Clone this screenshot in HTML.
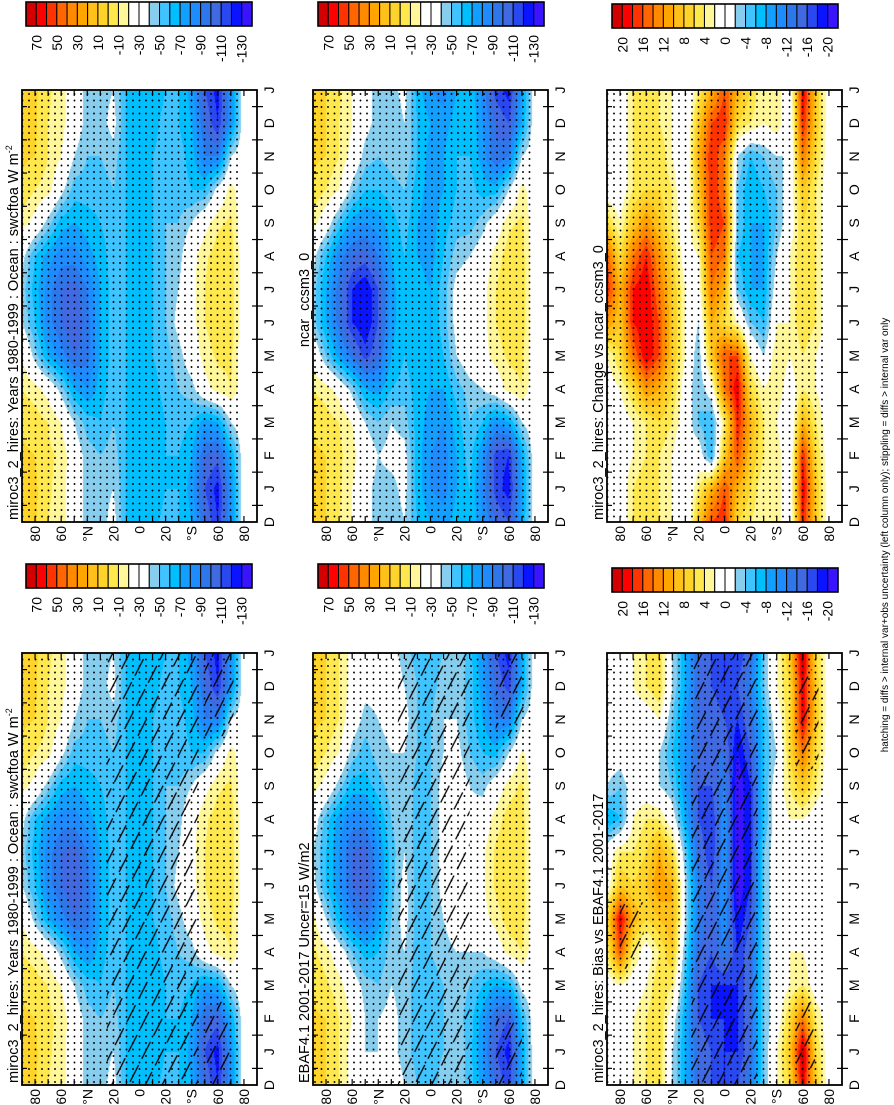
<!DOCTYPE html>
<html><head><meta charset="utf-8">
<style>
html,body{margin:0;padding:0;background:#fff;}
#wrap{position:relative;width:894px;height:1105px;overflow:hidden;font-family:"Liberation Sans",Arial,sans-serif;}
canvas{position:absolute;}
svg{position:absolute;left:0;top:0;}
</style></head>
<body>
<div id="wrap">
<svg id="svg" width="894" height="1105">
<defs>
<pattern id="dots" width="6.5" height="6.5" patternUnits="userSpaceOnUse"><circle cx="3" cy="3" r="0.95" fill="#000"/></pattern>
<pattern id="hatch" width="15" height="26" patternUnits="userSpaceOnUse" patternTransform="rotate(27)"><line x1="7" y1="2" x2="7" y2="21" stroke="#000" stroke-width="1.3"/></pattern>
</defs>
</svg>
</div>
<script>
// ---- data: rows = months D,J,F,M,A,M,J,J,A,S,O,N ; cols = lat 90N..90S every 10 deg
const monthLabels=["D","J","F","M","A","M","J","J","A","S","O","N","D","J"];
const latTickLabels=["80","60","°N","20","0","20","°S","60","80"];
const latTickValues=[80,60,40,20,0,-20,-40,-60,-80];
const meanCbLabels=["70","50","30","10","-10","-30","-50","-70","-90","-110","-130"];
const diffCbLabels=["20","16","12","8","4","0","-4","-8","-12","-16","-20"];
const mirocData=[
[2,2,-10,-15,-30,-45,-45,-35,-60,-65,-65,-55,-60,-70,-100,-120,-80,-30,-30],
[2,2,-8,-15,-30,-45,-45,-40,-60,-65,-70,-60,-60,-75,-110,-125,-80,-30,-30],
[2,0,-8,-12,-30,-45,-50,-45,-60,-65,-70,-60,-60,-70,-100,-105,-70,-30,-30],
[-2,-5,-10,-20,-40,-55,-60,-50,-60,-65,-70,-60,-55,-60,-75,-70,-40,-30,-30],
[-10,-15,-25,-45,-70,-80,-65,-55,-60,-65,-65,-55,-50,-45,-25,-15,-10,-30,-30],
[-20,-45,-70,-85,-100,-95,-70,-55,-60,-65,-60,-55,-45,-30,-15,-8,-8,-30,-30],
[-40,-60,-85,-100,-110,-95,-70,-55,-60,-70,-60,-50,-35,-25,-10,-3,-3,-30,-30],
[-45,-65,-85,-100,-105,-90,-70,-55,-60,-70,-60,-50,-40,-25,-10,-3,-3,-30,-30],
[-35,-60,-75,-85,-85,-75,-65,-55,-60,-70,-60,-50,-45,-25,-12,-5,-5,-30,-30],
[-15,-25,-45,-65,-70,-65,-60,-55,-60,-70,-60,-50,-50,-40,-25,-12,-8,-30,-30],
[-2,-10,-15,-35,-55,-55,-55,-50,-60,-65,-60,-55,-55,-60,-60,-35,-15,-30,-30],
[2,0,-10,-20,-40,-50,-50,-45,-60,-65,-60,-55,-55,-65,-90,-90,-40,-30,-30]];
const ncarData=[
[2,0,-10,-20,-35,-45,-50,-40,-60,-70,-75,-65,-60,-80,-100,-110,-70,-30,-30],
[2,0,-8,-20,-35,-45,-45,-35,-65,-80,-85,-70,-60,-85,-115,-125,-75,-30,-30],
[2,0,-8,-15,-30,-40,-35,-35,-65,-80,-85,-70,-55,-80,-115,-120,-70,-30,-30],
[-2,-5,-10,-20,-40,-50,-40,-45,-65,-75,-80,-65,-50,-60,-80,-70,-40,-30,-30],
[-10,-15,-25,-45,-70,-75,-60,-55,-65,-70,-70,-55,-45,-40,-30,-15,-10,-30,-30],
[-25,-50,-75,-95,-115,-100,-70,-60,-65,-70,-60,-40,-30,-25,-15,-8,-8,-30,-30],
[-45,-70,-95,-120,-130,-110,-75,-60,-65,-70,-55,-35,-30,-25,-10,-3,-3,-30,-30],
[-45,-70,-95,-120,-130,-110,-75,-60,-65,-70,-55,-35,-30,-25,-10,-3,-3,-30,-30],
[-35,-60,-85,-100,-105,-90,-70,-60,-70,-75,-60,-45,-40,-30,-15,-5,-5,-30,-30],
[-15,-30,-55,-75,-80,-75,-65,-55,-70,-75,-65,-55,-55,-45,-30,-12,-8,-30,-30],
[-2,-10,-20,-45,-60,-60,-55,-50,-65,-75,-70,-60,-55,-65,-65,-40,-15,-30,-30],
[2,0,-10,-25,-45,-50,-45,-40,-60,-75,-70,-60,-60,-75,-100,-90,-40,-30,-30]];
const ebafData=[
[2,0,-10,-25,-35,-35,-30,-40,-50,-55,-45,-40,-55,-75,-100,-115,-70,-30,-30],
[2,0,-10,-25,-40,-40,-35,-45,-55,-55,-50,-40,-55,-80,-110,-125,-70,-30,-30],
[2,0,-10,-20,-40,-40,-35,-45,-55,-55,-50,-45,-55,-75,-100,-110,-60,-30,-30],
[-2,-8,-15,-30,-45,-50,-40,-45,-55,-55,-50,-45,-50,-60,-70,-65,-35,-30,-30],
[-8,-15,-30,-50,-65,-60,-45,-40,-55,-50,-45,-40,-40,-40,-30,-15,-10,-30,-30],
[-15,-40,-65,-85,-95,-75,-50,-35,-55,-50,-40,-30,-30,-25,-15,-5,-5,-30,-30],
[-35,-60,-80,-100,-110,-85,-55,-35,-55,-50,-35,-28,-30,-22,-8,-3,-3,-30,-30],
[-40,-60,-80,-100,-105,-80,-55,-40,-55,-50,-35,-28,-30,-22,-8,-3,-3,-30,-30],
[-30,-55,-75,-85,-85,-70,-50,-40,-55,-50,-35,-30,-35,-30,-15,-5,-5,-30,-30],
[-15,-25,-45,-65,-65,-55,-45,-40,-55,-50,-35,-30,-40,-45,-30,-15,-8,-30,-30],
[-2,-10,-20,-45,-55,-45,-40,-40,-50,-50,-40,-35,-50,-60,-65,-40,-18,-30,-30],
[2,0,-10,-30,-45,-40,-35,-35,-50,-50,-40,-40,-55,-70,-90,-90,-40,-30,-30]];
const biasData=[
[0,0,2,4,6,-2,-8,-14,-16,-18,-16,-12,-4,2,6,20,8,0,0],
[0,0,2,4,6,-2,-8,-14,-16,-18,-18,-14,-4,2,8,22,6,0,0],
[0,0,2,4,6,0,-8,-16,-18,-18,-18,-14,-4,0,6,14,4,0,0],
[0,2,0,2,6,4,-6,-16,-18,-18,-18,-14,-4,0,2,4,0,0,0],
[4,16,4,0,4,8,-4,-14,-16,-12,-18,-14,-4,0,2,2,0,0,0],
[6,20,10,6,8,10,-2,-12,-16,-10,-20,-16,-4,0,2,0,0,0,0],
[0,8,6,8,12,10,-2,-12,-16,-10,-22,-18,-4,0,0,0,0,0,0],
[0,4,4,6,10,6,-4,-14,-18,-10,-22,-18,-4,0,0,0,0,0,0],
[-8,-6,2,4,4,0,-8,-16,-18,-10,-22,-18,-6,0,2,2,0,0,0],
[-2,-4,0,0,-2,-4,-10,-16,-16,-12,-22,-18,-6,0,4,8,4,0,0],
[0,0,2,0,-2,-6,-10,-14,-14,-14,-20,-16,-6,-2,6,14,6,0,0],
[0,0,0,0,2,-4,-10,-14,-14,-16,-18,-14,-6,0,6,20,8,0,0]];
const changeData=[
[0,0,4,6,4,2,-2,8,16,18,6,4,2,4,-2,18,8,0,0],
[0,0,4,6,4,2,-2,4,10,16,10,6,2,4,-2,20,8,0,0],
[0,0,2,4,4,2,-2,0,-6,8,16,8,4,4,-2,18,6,0,0],
[0,0,2,4,6,4,0,-4,-6,4,18,10,4,2,-2,10,4,0,0],
[0,2,6,12,10,6,0,-4,0,14,20,6,2,4,0,4,2,0,0],
[2,6,14,20,16,8,2,-4,8,16,16,2,-2,4,2,4,2,0,0],
[12,8,18,20,16,8,2,-2,10,6,2,-4,-6,2,2,6,4,0,0],
[18,10,18,20,14,8,2,0,14,10,-4,-8,-8,0,2,6,4,0,0],
[16,6,14,18,12,6,0,2,16,14,-6,-8,-8,-2,2,6,4,0,0],
[6,2,8,12,8,4,0,6,18,16,-4,-8,-8,-4,0,6,4,0,0],
[0,0,4,6,6,4,-2,8,18,14,-4,-8,-6,-4,0,8,4,0,0],
[0,0,4,6,6,2,-2,10,18,14,-2,-6,-4,-2,-2,14,6,0,0]];
// hatch regions: [latFrom, latTo, monthFrom, monthTo]
const hatchMiroc=[[25,-45,0,13],[-50,-70,0,2.5],[-50,-72,10.5,13]];
const hatchEbaf=[[25,-30,0,13],[-50,-70,0,2],[-50,-72,10.5,13]];
const hatchBias=[[25,-25,0,13],[-55,-70,0.5,2.5],[-55,-72,9.5,12.5],[80,62,3.5,5.5]];

const palette=["#D20000","#FF0000","#FF3300","#FF6600","#FF8A00","#FFA500","#FFC01A","#FFD42A","#FFE84D","#FFF799","#FFFFFF","#FFFFFF","#87CDEE","#40C4FF","#00BFFF","#139FFF","#1E8CFF","#2E77EA","#4169E1","#2A48F0","#0A14FF","#3A14FF"];
const SVGNS="http://www.w3.org/2000/svg";
const svg=document.getElementById('svg');
const wrap=document.getElementById('wrap');
function el(tag,attrs,parent){const e=document.createElementNS(SVGNS,tag);for(const k in attrs)e.setAttribute(k,attrs[k]);(parent||svg).appendChild(e);return e;}
function hex(c){return [parseInt(c.substr(1,2),16),parseInt(c.substr(3,2),16),parseInt(c.substr(5,2),16)];}
const palRGB=palette.map(hex);

let clipId=0;
function panel(x0,y0,w,h,data,top,step,hatch,title,titleMode,name){
  const xLat=lat=>x0+(90-lat)/180*w;
  const yMon=m=>y0+h-m/13*h;
  const cv=document.createElement('canvas');
  cv.width=w;cv.height=h;cv.style.left=x0+'px';cv.style.top=y0+'px';
  
  
  wrap.insertBefore(cv,svg);
  const ctx=cv.getContext('2d');const img=ctx.createImageData(w,h);
  for(let py=0;py<h;py++){
    const m=(h-py-0.5)/h*13;const i0=Math.floor(m);const tm=m-i0;
    const r0=data[i0%12],r1=data[(i0+1)%12];
    for(let px=0;px<w;px++){
      const jf=(px+0.5)/w*18;const j0=Math.min(17,Math.floor(jf));const tj=jf-j0;
      const a=r0[j0]*(1-tj)+r0[j0+1]*tj,b=r1[j0]*(1-tj)+r1[j0+1]*tj;
      const v=a*(1-tm)+b*tm;
      let k=Math.floor((top-v)/step);k=Math.max(0,Math.min(21,k));
      const c=palRGB[k];const o=(py*w+px)*4;
      img.data[o]=c[0];img.data[o+1]=c[1];img.data[o+2]=c[2];img.data[o+3]=255;
    }
  }
  ctx.putImageData(img,0,0);
  const g=el('g',{});
  
  
  const st=el('rect',{x:x0,y:y0,width:xLat(-78)-x0,height:h,fill:'url(#dots)'},g);
  
  
  if(hatch){
    clipId++;
    const cp=el('clipPath',{id:'hc'+clipId},svg.querySelector('defs'));
    hatch.forEach(r=>{
      el('rect',{x:xLat(r[0]),y:yMon(r[3]),width:xLat(r[1])-xLat(r[0]),height:yMon(r[2])-yMon(r[3])},cp);
    });
    const hr=el('rect',{x:x0,y:y0,width:w,height:h,fill:'url(#hatch)','clip-path':'url(#hc'+clipId+')'},g);
    
    
  }
  const bd=el('rect',{x:x0,y:y0,width:w,height:h,fill:'none',stroke:'#000','stroke-width':1.8},g);
  
  
  for(let lat=80;lat>=-80;lat-=10){
    const x=xLat(lat);
    el('line',{x1:x,y1:y0+h,x2:x,y2:y0+h-6,stroke:'#000','stroke-width':1.2},g);
    el('line',{x1:x,y1:y0,x2:x,y2:y0+6,stroke:'#000','stroke-width':1.2},g);
  }
  latTickValues.forEach((lat,i)=>{
    const x=xLat(lat);
    const t=el('text',{x:0,y:0,transform:`translate(${x+5},${y0+h+4}) rotate(-90)`,'font-size':14,'text-anchor':'end'},g);
    t.textContent=latTickLabels[i];
    
    
  });
  for(let m=0.5;m<13;m+=1){
    const y=yMon(m);
    el('line',{x1:x0+w,y1:y,x2:x0+w+6,y2:y,stroke:'#000','stroke-width':1.2},g);
    el('line',{x1:x0,y1:y,x2:x0+5,y2:y,stroke:'#000','stroke-width':1.2},g);
    el('line',{x1:x0+w,y1:y,x2:x0+w-5,y2:y,stroke:'#000','stroke-width':1.2},g);
  }
  monthLabels.forEach((lb,m)=>{
    const y=yMon(m);
    const t=el('text',{x:0,y:0,transform:`translate(${x0+w+17},${y}) rotate(-90)`,'font-size':14,'text-anchor':'middle'},g);
    t.textContent=lb;
    
    
  });
  const ty=titleMode==='start'?y0+h-2:y0+h/2-6;
  const t=el('text',{x:0,y:0,transform:`translate(${x0-4},${ty}) rotate(-90)`,'font-size':14.5,'text-anchor':titleMode==='start'?'start':'middle'},g);
  t.innerHTML=title;
  
  
}
function colorbar(x0,y0,labels,name){
  const w=226,h=24,bw=w/22;
  const g=el('g',{});
  
  
  palette.forEach((c,i)=>{
    const r=el('rect',{x:x0+i*bw,y:y0,width:bw,height:h,fill:c,stroke:'#000','stroke-width':1},g);
    
    
  });
  el('rect',{x:x0,y:y0,width:w,height:h,fill:'none',stroke:'#000','stroke-width':1.6},g);
  labels.forEach((lb,i)=>{
    const x=x0+(1+2*i)*bw;
    const t=el('text',{x:0,y:0,transform:`translate(${x+5},${y0+h+9}) rotate(-90)`,'font-size':14,'text-anchor':'end'},g);
    t.textContent=lb;
    
    
  });
}
const W=235,H=432;
const unit='swcftoa W m<tspan font-size="9" dy="-6">-2</tspan>';
colorbar(26,2,meanCbLabels,'colorbar-miroc-right');
panel(22,90,W,H,mirocData,80,10,null,'miroc3_2_hires: Years 1980-1999 : Ocean : '+unit,'start','panel-miroc-right');
colorbar(26,564,meanCbLabels,'colorbar-miroc-left');
panel(22,653,W,H,mirocData,80,10,hatchMiroc,'miroc3_2_hires: Years 1980-1999 : Ocean : '+unit,'start','panel-miroc-left');
colorbar(318,2,meanCbLabels,'colorbar-ncar');
panel(313,90,W,H,ncarData,80,10,null,'ncar_ccsm3_0','middle','panel-ncar');
colorbar(318,564,meanCbLabels,'colorbar-ebaf');
panel(313,653,W,H,ebafData,80,10,hatchEbaf,'EBAF4.1 2001-2017 Uncer=15 W/m2','start','panel-ebaf');
colorbar(612,4,diffCbLabels,'colorbar-change');
panel(607,90,W,H,changeData,22,2,null,'miroc3_2_hires: Change vs ncar_ccsm3_0','start','panel-change');
colorbar(612,568,diffCbLabels,'colorbar-bias');
panel(607,653,W,H,biasData,22,2,hatchBias,'miroc3_2_hires: Bias vs EBAF4.1 2001-2017','start','panel-bias');
const ft=el('text',{x:0,y:0,transform:'translate(888,535) rotate(-90)','font-size':10,'text-anchor':'middle'});
ft.textContent='hatching = diffs > internal var+obs uncertainty (left column only); stippling = diffs > internal var only';


</script>
</body></html>
